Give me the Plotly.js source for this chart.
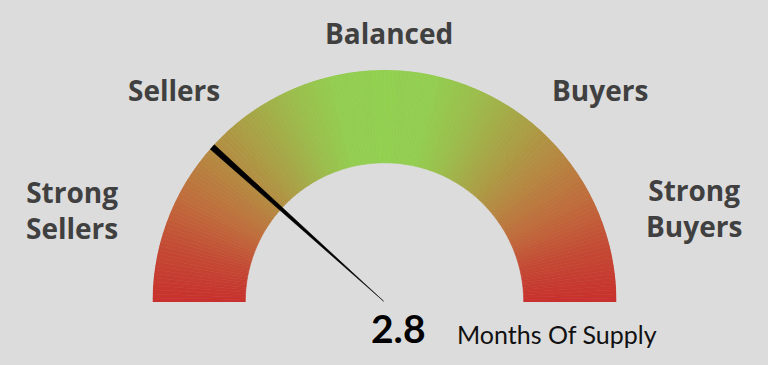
<!DOCTYPE html>
<html>
<head>
<meta charset="utf-8">
<script src="https://cdn.plot.ly/plotly-3.0.1.min.js"></script>
<style>
  html, body { margin: 0; padding: 0; background: #dcdcdc; }
  #chart { width: 768px; height: 365px; }
</style>
</head>
<body>
<div id="chart"></div>
<script>
// Gauge scale (months of supply)
const gaugeMin = 0;
const gaugeMax = 12;
const currentValue = 2.8;
const valueUnit = "Months Of Supply";

// Market zone labels around the dial
const zoneLabels = ["Strong<br>Sellers", "Sellers", "Balanced", "Buyers", "Strong<br>Buyers"];

// Colour ramp along the dial (position 0..1 from left end to right end)
const rampStops = [0.00, 0.08, 0.15, 0.22, 0.30, 0.37, 0.43, 0.50, 0.57, 0.63, 0.70, 0.78, 0.85, 0.92, 1.00];
const rampColors = [
  [200, 48, 45], [196, 75, 52], [192, 108, 60], [182, 135, 64], [168, 165, 70],
  [155, 190, 76], [147, 206, 80], [146, 208, 80], [147, 206, 80], [155, 190, 76],
  [168, 165, 70], [182, 135, 64], [192, 108, 60], [196, 75, 52], [200, 48, 45]
];

function rampColor(t) {
  for (let i = 1; i < rampStops.length; i++) {
    if (t <= rampStops[i]) {
      const a = rampStops[i - 1], b = rampStops[i];
      const f = (t - a) / (b - a);
      const c0 = rampColors[i - 1], c1 = rampColors[i];
      const c = c0.map((v, k) => Math.round(v + (c1[k] - v) * f));
      return `rgb(${c[0]},${c[1]},${c[2]})`;
    }
  }
  const c = rampColors[rampColors.length - 1];
  return `rgb(${c[0]},${c[1]},${c[2]})`;
}

// Months -> degrees across the half dial
const toDeg = v => (v - gaugeMin) / (gaugeMax - gaugeMin) * 180;

// Thin wedges making up the coloured band
const nSeg = 180;
const segTheta = [], segColor = [], segR = [], segBase = [];
for (let i = 0; i < nSeg; i++) {
  const t = (i + 0.5) / nSeg;
  segTheta.push(toDeg(gaugeMin + t * (gaugeMax - gaugeMin)));
  segColor.push(rampColor(t));
  segR.push(0.4);
  segBase.push(0.6);
}

const band = {
  type: 'barpolar',
  theta: segTheta,
  r: segR,
  base: segBase,
  width: 180 / nSeg,
  marker: { color: segColor, line: { color: segColor, width: 0.6 } },
  hoverinfo: 'skip',
  showlegend: false
};

// Needle: a narrow wedge tapering to the hub
const needleDeg = toDeg(currentValue);
const needle = {
  type: 'scatterpolar',
  mode: 'lines',
  r: [0.005, 1.0, 1.0, 0.005],
  theta: [needleDeg, needleDeg - 0.75, needleDeg + 0.75, needleDeg],
  fill: 'toself',
  fillcolor: '#000000',
  line: { color: '#000000', width: 0.5 },
  hoverinfo: 'skip',
  showlegend: false
};

const labelFont = { family: '"Open Sans", Lato, sans-serif', size: 28, color: '#404040', weight: 'bold' };
const W = 768, H = 365;
const px = x => x / W, py = y => 1 - y / H;
const labelPos = [[72, 210], [174, 90], [389, 33], [600, 90], [694, 208]];

const annotations = zoneLabels.map((txt, i) => ({
  text: txt, xref: 'paper', yref: 'paper',
  x: px(labelPos[i][0]), y: py(labelPos[i][1]),
  xanchor: 'center', yanchor: 'middle', showarrow: false,
  font: labelFont, align: 'center'
}));
annotations.push({
  text: '<b>' + currentValue.toFixed(1) + '</b>', xref: 'paper', yref: 'paper',
  x: px(398.5), y: py(328), xanchor: 'center', yanchor: 'middle', showarrow: false,
  font: { family: 'Lato, "Open Sans", sans-serif', size: 39, color: '#000000' }
});
annotations.push({
  text: valueUnit, xref: 'paper', yref: 'paper',
  x: px(557), y: py(334), xanchor: 'center', yanchor: 'middle', showarrow: false,
  font: { family: 'Lato, "Open Sans", sans-serif', size: 25, color: '#111111' }
});

const layout = {
  width: W, height: H,
  margin: { l: 0, r: 0, t: 0, b: 0 },
  paper_bgcolor: '#dcdcdc',
  plot_bgcolor: '#dcdcdc',
  showlegend: false,
  polar: {
    domain: { x: [152.5 / W, 616.5 / W], y: [63 / H, 295 / H] },
    bgcolor: 'rgba(0,0,0,0)',
    sector: [0, 180],
    hole: 0,
    bargap: 0,
    radialaxis: { range: [0, 1], visible: false, showgrid: false },
    angularaxis: {
      direction: 'clockwise', rotation: 180,
      showgrid: false, showline: false, showticklabels: false, ticks: ''
    }
  },
  annotations: annotations
};

Plotly.newPlot('chart', [band, needle], layout, { displayModeBar: false, staticPlot: true });
</script>
</body>
</html>
